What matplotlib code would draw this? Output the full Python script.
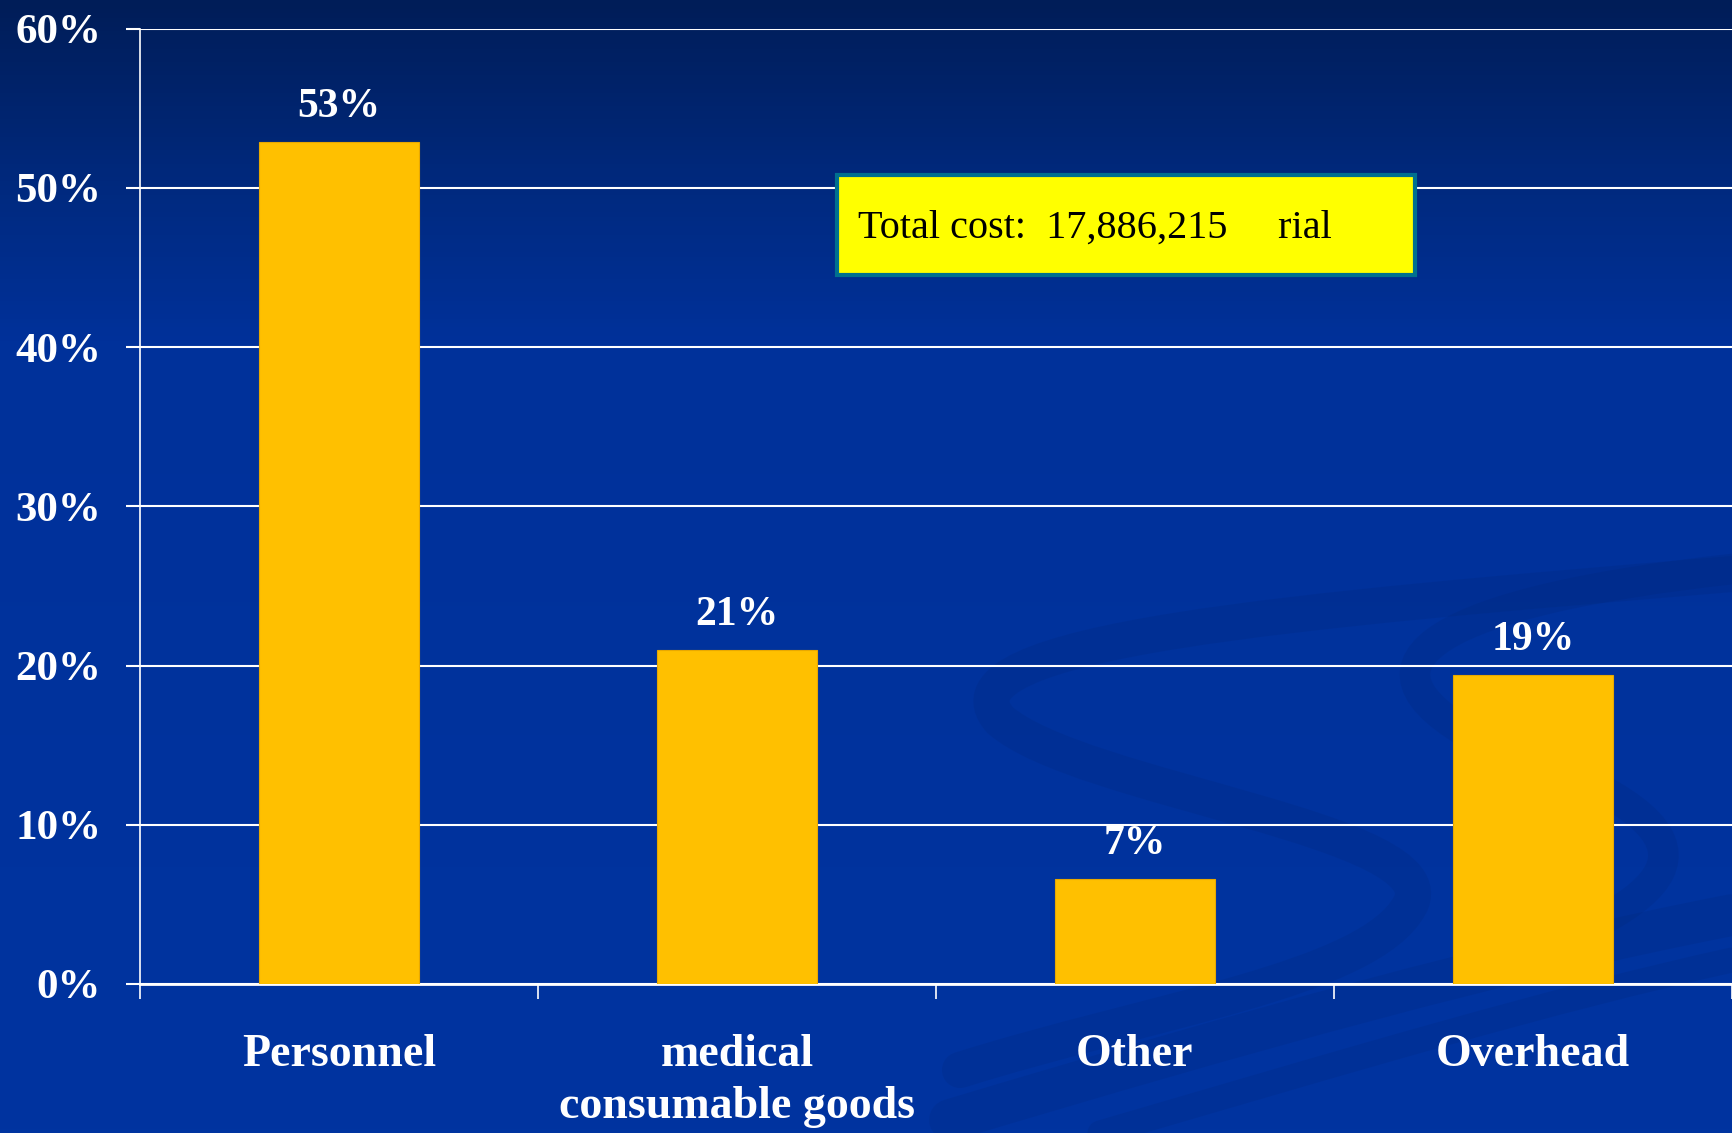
import matplotlib.pyplot as plt
import numpy as np
from matplotlib.patches import Rectangle, PathPatch
from matplotlib.path import Path
from matplotlib.colors import LinearSegmentedColormap
from matplotlib.ticker import FuncFormatter

# Datos del gráfico
categorias = ['Personnel', 'medical\nconsumable goods', 'Other', 'Overhead']
porcentajes = [0.529, 0.210, 0.066, 0.194]
etiquetas = ['53%', '21%', '7%', '19%']
texto_total = 'Total cost:  17,886,215     rial'

W, H = 1732, 1133
fig = plt.figure(figsize=(W / 100, H / 100), dpi=100)

# Fondo con degradado azul
bg = fig.add_axes([0, 0, 1, 1], zorder=-10)
grad = LinearSegmentedColormap.from_list(
    'fondo', [(0.0, '#001d58'), (0.17, '#002a80'), (0.30, '#00319a'), (1.0, '#0034a0')])
bg.imshow(np.linspace(0, 1, 256).reshape(-1, 1), aspect='auto', cmap=grad,
          extent=[0, 1, 0, 1], origin='upper')
bg.set_xlim(0, 1)
bg.set_ylim(0, 1)
bg.axis('off')


# Curvas decorativas (en píxeles de la imagen)
def px(x, y):
    return (x / W, 1 - y / H)


def banda(puntos, lw):
    verts = [px(*p) for p in puntos]
    codes = [Path.MOVETO] + [Path.CURVE4] * (len(verts) - 1)
    patch = PathPatch(Path(verts, codes), facecolor='none', edgecolor='#00246e',
                      lw=lw, alpha=0.16, transform=bg.transAxes, capstyle='round')
    bg.add_patch(patch)


banda([(1732, 574), (1300, 610), (930, 640), (1000, 720),
       (1080, 790), (1450, 830), (1410, 905),
       (1370, 980), (1150, 1010), (960, 1070)], 26)
banda([(1732, 569), (1450, 600), (1330, 660), (1480, 740),
       (1720, 820), (1700, 880), (1560, 940)], 22)
banda([(950, 1120), (1250, 1030), (1500, 960), (1732, 915)], 30)
banda([(1100, 1133), (1350, 1060), (1550, 1000), (1732, 960)], 18)

# Ejes principales
ax = fig.add_axes([140 / W, 1 - 984 / H, 1592 / W, (984 - 28.7) / H])
ax.patch.set_alpha(0)

x = np.arange(len(categorias))
ax.bar(x, porcentajes, width=0.4, color='#ffc000', edgecolor='#e8a800',
       linewidth=0.8, zorder=3)

for xi, v, t in zip(x, porcentajes, etiquetas):
    ax.annotate(t, (xi, v), xytext=(0, 18), textcoords='offset points',
                ha='center', va='baseline', color='white', fontsize=30,
                fontweight='bold', family='Liberation Serif', zorder=4)

ax.set_xlim(-0.5, 3.5)
ax.set_ylim(0, 0.6)
ax.set_yticks(np.arange(0, 0.61, 0.1))
ax.yaxis.set_major_formatter(FuncFormatter(lambda v, p: f'{v * 100:.0f}%'))
ax.grid(axis='y', color='white', linewidth=1.5, zorder=1)
ax.set_axisbelow(True)

for s in ['top', 'right']:
    ax.spines[s].set_visible(False)
ax.spines['left'].set_color('white')
ax.spines['left'].set_linewidth(1.2)
ax.spines['bottom'].set_color('white')
ax.spines['bottom'].set_linewidth(2)

ax.tick_params(axis='y', direction='out', length=10, width=1.5, color='white',
               pad=18, labelcolor='white', labelsize=31)
for lab in ax.get_yticklabels():
    lab.set_fontweight('bold')
    lab.set_family('Liberation Serif')

ax.set_xticks(x)
ax.set_xticklabels(categorias, fontsize=33, fontweight='bold',
                   family='Liberation Serif', color='white', linespacing=1.3)
ax.set_xticks(np.arange(-0.5, 3.6, 1), minor=True)
ax.tick_params(axis='x', which='major', length=0, pad=36)
ax.tick_params(axis='x', which='minor', direction='out', length=11, width=1.2,
               color='white')

# Recuadro con el costo total
caja = Rectangle(px(837, 275), (1415 - 837) / W, (275 - 174.5) / H,
                 transform=fig.transFigure, facecolor='#ffff00',
                 edgecolor='#00708f', linewidth=3, zorder=5)
fig.add_artist(caja)
fig.text(858 / W, 1 - 228 / H, texto_total, ha='left', va='center',
         fontsize=29, family='Liberation Serif', color='black', zorder=6)

plt.savefig('out.png', dpi=100)
